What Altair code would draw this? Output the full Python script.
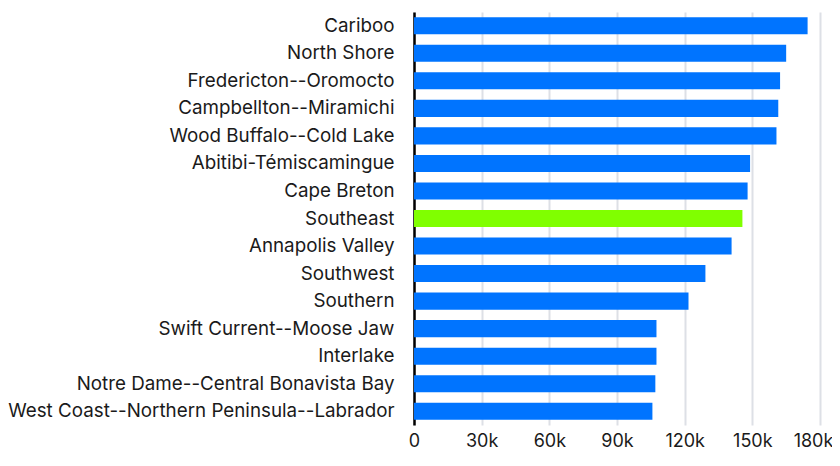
import altair as alt
import pandas as pd

regions = [
    "Cariboo", "North Shore", "Fredericton--Oromocto", "Campbellton--Miramichi",
    "Wood Buffalo--Cold Lake", "Abitibi-Témiscamingue", "Cape Breton", "Southeast",
    "Annapolis Valley", "Southwest", "Southern", "Swift Current--Moose Jaw",
    "Interlake", "Notre Dame--Central Bonavista Bay",
    "West Coast--Northern Peninsula--Labrador",
]
values = [174500, 165000, 162300, 161500, 160700, 149000, 147900, 145600,
          140800, 129200, 121700, 107500, 107500, 107000, 105700]
highlight = "Southeast"
ticks = [0, 30000, 60000, 90000, 120000, 150000, 180000]

df = pd.DataFrame({"region": regions, "value": values})
df["hl"] = ["yes" if r == highlight else "no" for r in regions]

chart = alt.Chart(df).mark_bar().encode(
    x=alt.X("value:Q", scale=alt.Scale(domain=[0, 180000], nice=False),
            axis=alt.Axis(title=None, values=ticks,
                          labelExpr="datum.value == 0 ? '0' : format(datum.value / 1000, 'd') + 'k'",
                          ticks=False, domain=False, grid=True, gridColor="#dde0e6", gridWidth=2,
                          labelFlush=False,
                          labelOffset={"condition": {"test": "datum.value == 180000", "value": -7}, "value": 0},
                          labelFont="Inter", labelFontSize=18, labelColor="#1a1a1a", labelPadding=7)),
    y=alt.Y("region:N", sort=regions,
            scale=alt.Scale(paddingInner=0.38, paddingOuter=0.19),
            axis=alt.Axis(title=None, ticks=False, domain=True, domainColor="#000000", domainWidth=2.5,
                          labelFont="Inter", labelFontSize=18.8, labelColor="#1a1a1a", labelPadding=20,
                          labelLimit=500)),
    color=alt.Color("hl:N", scale=alt.Scale(domain=["no", "yes"], range=["#0074ff", "#80ff00"]), legend=None),
).properties(
    width=406, height=413,
    autosize=alt.AutoSizeParams(type="none"),
    padding={"left": 406, "top": 4, "right": 12, "bottom": 30},
).configure_view(stroke=None)

chart.save("out.html", embed_options={"renderer": "svg", "actions": False})
